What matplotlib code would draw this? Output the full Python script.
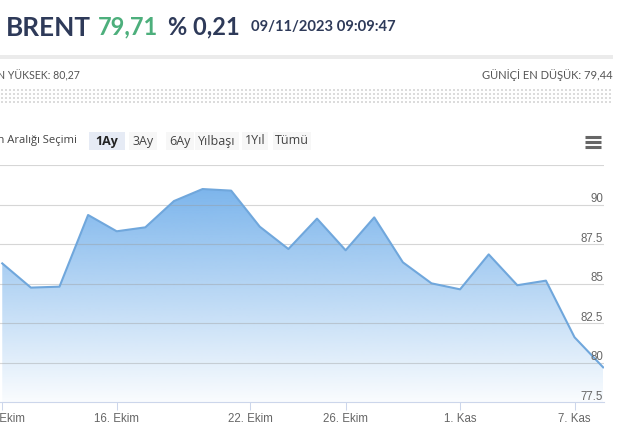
import numpy as np
import matplotlib
matplotlib.use("Agg")
import matplotlib.pyplot as plt
from matplotlib import transforms
from matplotlib.patches import Rectangle

# Brent, one point per trading day (10 Ekim - 9 Kas 2023)
prices = [86.28, 84.75, 84.81, 89.34, 88.31, 88.56, 90.22, 90.98, 90.88,
          88.60, 87.19, 89.11, 87.11, 89.19, 86.35, 85.02, 84.64, 86.85,
          84.90, 85.19, 81.61, 79.71]
# ticks on the ordinal (trading day) axis
tick_pos = [0, 4, 8.667, 12, 16, 20]
tick_labels = ["10. Ekim", "16. Ekim", "22. Ekim", "26. Ekim", "1. Kas", "7. Kas"]
y_ticks = [77.5, 80, 82.5, 85, 87.5, 90, 92.5]
y_labels = ["77.5", "80", "82.5", "85", "87.5", "90", ""]

ranges = ["1Ay", "3Ay", "6Ay", "Yılbaşı", "1Yıl", "Tümü"]
selected = "1Ay"

title = "BRENT"
last = "79,71"
change = "% 0,21"
stamp = "09/11/2023 09:09:47"
day_high = "GÜNİÇİ EN YÜKSEK: 80,27"
day_low = "GÜNİÇİ EN DÜŞÜK: 79,44"

NAVY = "#2e3a59"
GREEN = "#4daf7c"
BLUE = "#7cb5ec"
LINE = "#70a7dc"

W, H = 622, 448
fig = plt.figure(figsize=(W / 100, H / 100), dpi=100)

# overlay in pixel coords for the page furniture
ov = fig.add_axes([0, 0, 1, 1])
ov.set_xlim(0, W)
ov.set_ylim(H, 0)
ov.axis("off")

ov.text(6, 35.5, title, fontsize=18.8, fontweight="bold", family="Lato",
        color=NAVY, va="baseline")
ov.text(98, 34, last, fontsize=17, fontweight="bold", family="Lato",
        color=GREEN, va="baseline")
ov.text(168, 34, change, fontsize=17, fontweight="bold", family="Lato",
        color=NAVY, va="baseline")
ov.text(251, 31, stamp, fontsize=10.6, fontweight="bold", family="Lato",
        color=NAVY, va="baseline")

ov.add_patch(Rectangle((0, 55), 613, 4, color="#ebebeb", lw=0))
ov.text(80, 75, day_high, fontsize=7.6, family="Lato", color="#555555",
        ha="right", va="center")
ov.text(613, 75, day_low, fontsize=8, family="Lato", color="#555555",
        ha="right", va="center")

# dotted strip
dx, dy = np.meshgrid(np.arange(2, 612, 4), np.arange(90, 104, 4))
ov.scatter(dx.ravel(), dy.ravel(), marker="s", s=2.2, color="#dcdcdc", lw=0)

# range selector
ov.text(77, 141, "Zaman Aralığı Seçimi", fontsize=8.1, family="Open Sans",
        color="#444444", ha="right", va="center")
btn_x = [107, 143, 180, 217, 255, 292]
btn_w = [36, 28, 28, 44, 26, 38]
for lab, cx, bw in zip(ranges, btn_x, btn_w):
    sel = lab == selected
    ov.add_patch(Rectangle((cx - bw / 2, 132), bw, 18, lw=0,
                           color="#e6ebf5" if sel else "#f7f7f7"))
    ov.text(cx, 141, lab, fontsize=9, family="Open Sans",
            fontweight="bold" if sel else "normal",
            color="#222222" if sel else "#444444", ha="center", va="center")
for yy in (137, 142, 147):
    ov.plot([585, 601], [yy, yy], color="#666666", lw=2.2, solid_capstyle="butt")

# the chart
ax = fig.add_axes([0, (H - 402.3) / H, 604.3 / W, (402.3 - 165) / H])
ax.patch.set_alpha(0)
x = np.arange(len(prices))
ax.set_xlim(-0.0786, 21.04)
ax.set_ylim(y_ticks[0], y_ticks[-1])

area = ax.fill_between(x, prices, y_ticks[0], color="none", lw=0)
top = max(prices)
n = 256
rgba = np.zeros((n, 1, 4))
rgba[:, 0, :3] = matplotlib.colors.to_rgb(BLUE)
rgba[:, 0, 3] = np.linspace(0.04, 1.0, n)
im = ax.imshow(rgba, extent=[x[0], x[-1], y_ticks[0], top], origin="lower",
               aspect="auto", zorder=1, interpolation="bilinear")
im.set_clip_path(area.get_paths()[0], transform=ax.transData)

for v in y_ticks[1:]:
    ax.axhline(v, color="#9a9a9a", alpha=0.4, lw=0.8, zorder=2)
ax.plot(x, prices, color=LINE, lw=1.5, zorder=3, solid_joinstyle="round")

lab_tr = transforms.offset_copy(
    transforms.blended_transform_factory(ax.transAxes, ax.transData),
    fig=fig, x=-1, y=2.5, units="dots")
for v, s in zip(y_ticks, y_labels):
    ax.text(1, v, s, transform=lab_tr, ha="right", va="baseline",
            fontsize=8.3, family="Liberation Sans", color="#666666", zorder=5)

for side in ("top", "left", "right"):
    ax.spines[side].set_visible(False)
ax.spines["bottom"].set_color("#ccd6eb")
ax.spines["bottom"].set_linewidth(0.8)
ax.set_yticks([])
ax.set_xticks(tick_pos, tick_labels)
ax.tick_params(axis="x", length=5.8, width=0.75, color="#ccd6eb",
               labelcolor="#666666", labelsize=8.3, pad=2)
for t in ax.get_xticklabels():
    t.set_family("Liberation Sans")

fig.savefig("out.png", dpi=100)
